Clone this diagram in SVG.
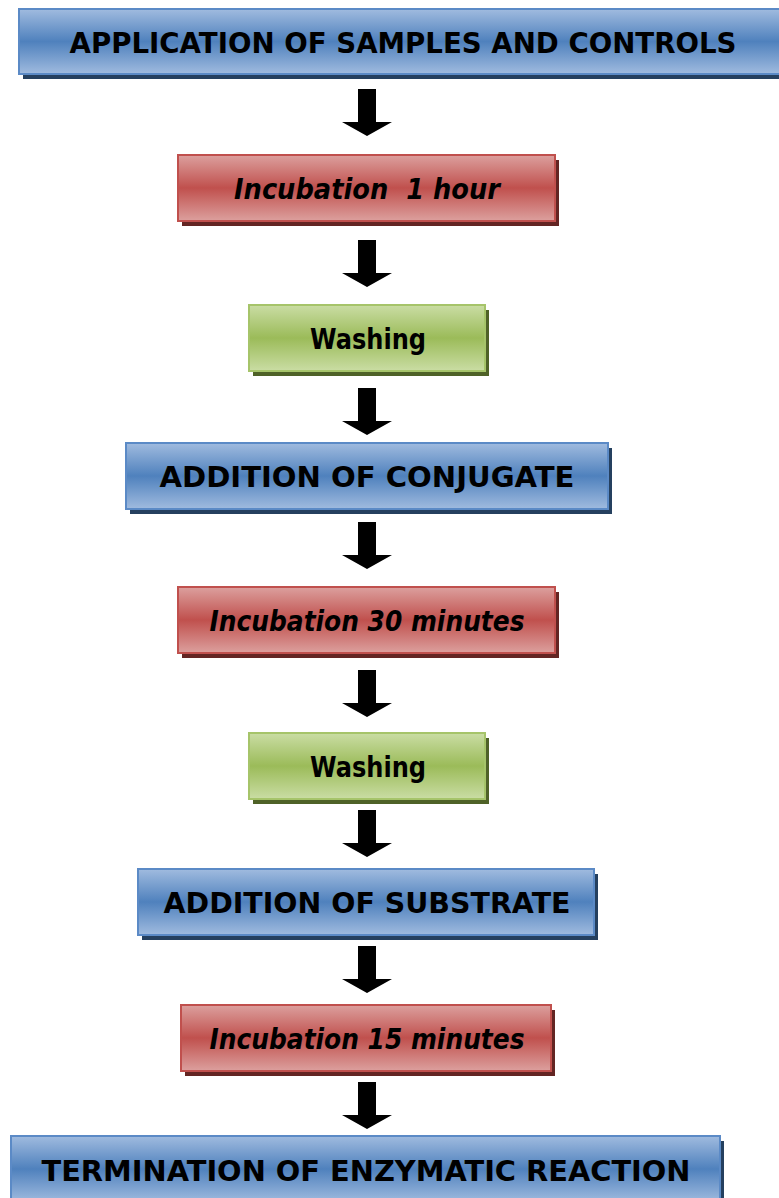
<svg xmlns="http://www.w3.org/2000/svg" width="779" height="1198" viewBox="0 0 779 1198">
<defs>
<linearGradient id="gBlue" x1="0" y1="0" x2="0" y2="1">
<stop offset="0" stop-color="#a0bbdf"/><stop offset="0.5" stop-color="#4f81bd"/><stop offset="1" stop-color="#a0bbdf"/>
</linearGradient>
<linearGradient id="gRed" x1="0" y1="0" x2="0" y2="1">
<stop offset="0" stop-color="#dca09e"/><stop offset="0.5" stop-color="#c0504d"/><stop offset="1" stop-color="#dca09e"/>
</linearGradient>
<linearGradient id="gGreen" x1="0" y1="0" x2="0" y2="1">
<stop offset="0" stop-color="#cadda4"/><stop offset="0.5" stop-color="#9bbb59"/><stop offset="1" stop-color="#cadda4"/>
</linearGradient>
<path id="arrow" d="M-9,0 H9 V33 H25 L0,47 L-25,33 H-9 Z"/>
</defs>
<style>
.blue{fill:url(#gBlue);stroke:#5b8ac6;stroke-width:2}
.red{fill:url(#gRed);stroke:#c0504d;stroke-width:2}
.green{fill:url(#gGreen);stroke:#a6c46a;stroke-width:2}
.sb{fill:#25405f}
.sr{fill:#632523}
.sg{fill:#4f6228}
.t{font-family:"Comic Sans MS","DejaVu Sans",sans-serif;font-weight:bold;font-size:28px;fill:#000;text-anchor:middle;white-space:pre}
.i{font-style:italic}
.arr{fill:#000}
</style>
<g id="connectors">
<use href="#arrow" class="arr" x="367" y="89"/>
<use href="#arrow" class="arr" x="367" y="240"/>
<use href="#arrow" class="arr" x="367" y="388"/>
<use href="#arrow" class="arr" x="367" y="522"/>
<use href="#arrow" class="arr" x="367" y="670"/>
<use href="#arrow" class="arr" x="367" y="810"/>
<use href="#arrow" class="arr" x="367" y="946"/>
<use href="#arrow" class="arr" x="367" y="1082"/>
</g>
<g id="n1">
<rect class="sb" x="23" y="13" width="770" height="66"/>
<rect class="blue" x="19" y="9" width="770" height="65"/>
<text class="t" x="403" y="53" textLength="667" lengthAdjust="spacingAndGlyphs">APPLICATION OF SAMPLES AND CONTROLS</text>
</g>
<g id="n2">
<rect class="sr" x="182" y="160" width="377" height="66"/>
<rect class="red" x="178" y="155" width="377" height="66"/>
<text class="t i" x="367" y="199" textLength="266" lengthAdjust="spacingAndGlyphs" xml:space="preserve">Incubation  1 hour</text>
</g>
<g id="n3">
<rect class="sg" x="253" y="310" width="236" height="66"/>
<rect class="green" x="249" y="305" width="236" height="66"/>
<text class="t" x="368" y="349" textLength="116" lengthAdjust="spacingAndGlyphs">Washing</text>
</g>
<g id="n4">
<rect class="sb" x="130" y="448" width="482" height="66"/>
<rect class="blue" x="126" y="443" width="482" height="66"/>
<text class="t" x="367" y="487" textLength="415" lengthAdjust="spacingAndGlyphs">ADDITION OF CONJUGATE</text>
</g>
<g id="n5">
<rect class="sr" x="182" y="592" width="377" height="66"/>
<rect class="red" x="178" y="587" width="377" height="66"/>
<text class="t i" x="367" y="631" textLength="315" lengthAdjust="spacingAndGlyphs">Incubation 30 minutes</text>
</g>
<g id="n6">
<rect class="sg" x="253" y="738" width="236" height="66"/>
<rect class="green" x="249" y="733" width="236" height="66"/>
<text class="t" x="368" y="777" textLength="116" lengthAdjust="spacingAndGlyphs">Washing</text>
</g>
<g id="n7">
<rect class="sb" x="142" y="874" width="456" height="66"/>
<rect class="blue" x="138" y="869" width="456" height="66"/>
<text class="t" x="367" y="913" textLength="407" lengthAdjust="spacingAndGlyphs">ADDITION OF SUBSTRATE</text>
</g>
<g id="n8">
<rect class="sr" x="185" y="1010" width="370" height="66"/>
<rect class="red" x="181" y="1005" width="370" height="66"/>
<text class="t i" x="367" y="1049" textLength="315" lengthAdjust="spacingAndGlyphs">Incubation 15 minutes</text>
</g>
<g id="n9">
<rect class="sb" x="15" y="1141" width="709" height="66"/>
<rect class="blue" x="11" y="1136" width="709" height="66"/>
<text class="t" x="366" y="1181" textLength="649" lengthAdjust="spacingAndGlyphs">TERMINATION OF ENZYMATIC REACTION</text>
</g>
</svg>
